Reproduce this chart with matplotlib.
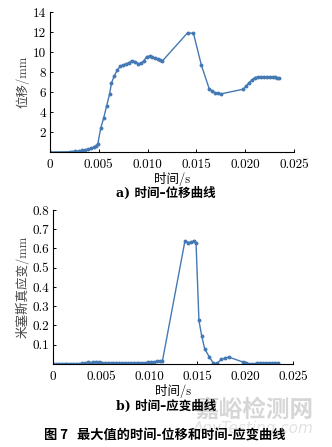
import matplotlib.pyplot as plt
from matplotlib.ticker import FixedLocator, FuncFormatter

plt.rcParams['font.family'] = ['cmr10', 'Noto Sans CJK SC', 'DejaVu Sans']
plt.rcParams['axes.unicode_minus'] = False
plt.rcParams['axes.formatter.use_mathtext'] = False

# --- displacement vs time ---
t_disp = [0.0, 0.0020, 0.0023, 0.0026, 0.0030, 0.0033, 0.0036, 0.0039, 0.0042,
          0.0045, 0.0047, 0.0049, 0.0052, 0.0055, 0.0058, 0.0061, 0.0063, 0.0066,
          0.0069, 0.0072, 0.0075, 0.0078, 0.0081, 0.0084, 0.0087, 0.0090, 0.0093,
          0.0096, 0.0099, 0.0102, 0.0105, 0.0108, 0.0111, 0.0113, 0.0115, 0.0141,
          0.0147, 0.0155, 0.0163, 0.0166, 0.0169, 0.0172, 0.0175, 0.0198, 0.0201,
          0.0204, 0.0207, 0.0210, 0.0213, 0.0216, 0.0219, 0.0222, 0.0225, 0.0228,
          0.0231, 0.0233, 0.0235]
disp = [0.0, 0.02, 0.04, 0.07, 0.11, 0.17, 0.23, 0.28, 0.36,
        0.48, 0.58, 0.82, 2.40, 3.40, 4.60, 5.78, 6.90, 7.65,
        8.19, 8.59, 8.70, 8.82, 8.95, 9.15, 9.05, 8.85, 8.87,
        9.10, 9.55, 9.58, 9.47, 9.40, 9.33, 9.25, 9.09, 11.93,
        11.86, 8.72, 6.35, 6.08, 5.95, 5.88, 5.81, 6.28, 6.60,
        6.95, 7.22, 7.45, 7.52, 7.52, 7.52, 7.52, 7.51, 7.50,
        7.47, 7.42, 7.38]

# --- von Mises strain vs time ---
t_strain = [0.0, 0.0003, 0.0006, 0.0009, 0.0012, 0.0015, 0.0018, 0.0021, 0.0024,
            0.0027, 0.0030, 0.0033, 0.0036, 0.0039, 0.0042, 0.0045, 0.0048, 0.0051,
            0.0054, 0.0057, 0.0060, 0.0063, 0.0066, 0.0069, 0.0072, 0.0075, 0.0078,
            0.0081, 0.0084, 0.0087, 0.0090, 0.0093, 0.0096, 0.0099, 0.0102, 0.0105,
            0.0108, 0.0111, 0.0114, 0.01375, 0.0141, 0.0144, 0.0147, 0.0149, 0.0152,
            0.0155, 0.0158, 0.0163, 0.0167, 0.0171, 0.0175, 0.0179, 0.0183, 0.0198,
            0.0201, 0.0204, 0.0207, 0.0210, 0.0213, 0.0216, 0.0219, 0.0222, 0.0225,
            0.0228, 0.0231, 0.0234]
strain = [0.002, 0.002, 0.002, 0.002, 0.002, 0.002, 0.002, 0.002, 0.002,
          0.002, 0.003, 0.004, 0.008, 0.006, 0.010, 0.012, 0.009, 0.005,
          0.006, 0.006, 0.006, 0.006, 0.007, 0.007, 0.007, 0.006, 0.004,
          0.004, 0.004, 0.004, 0.005, 0.005, 0.006, 0.008, 0.010, 0.012,
          0.013, 0.014, 0.016, 0.641, 0.631, 0.634, 0.641, 0.628, 0.226,
          0.143, 0.079, 0.035, 0.005, 0.003, 0.024, 0.029, 0.036, 0.010,
          0.005, 0.002, 0.001, 0.001, 0.003, 0.004, 0.004, 0.004, 0.004,
          0.004, 0.004, 0.004]

x_ticks = [0, 0.005, 0.010, 0.015, 0.020, 0.025]
disp_ticks = [2, 4, 6, 8, 10, 12, 14]
strain_ticks = [0.1, 0.2, 0.3, 0.4, 0.5, 0.6, 0.7, 0.8]

blue = '#4479B4'
fs = 9.5

fig = plt.figure(figsize=(3.32, 4.47), dpi=100)
ax1 = fig.add_axes([0.1506, 0.660, 0.735, 0.313])
ax2 = fig.add_axes([0.1596, 0.1857, 0.723, 0.3445])


def style(ax, ylim, yticks, yfmt):
    ax.set_xlim(0, 0.025)
    ax.set_ylim(*ylim)
    for s in ['top', 'right']:
        ax.spines[s].set_visible(False)
    for s in ['left', 'bottom']:
        ax.spines[s].set_linewidth(0.8)
    ax.xaxis.set_major_locator(FixedLocator(x_ticks))
    ax.xaxis.set_major_formatter(FuncFormatter(lambda v, p: '0' if v == 0 else f'{v:.3f}'))
    ax.yaxis.set_major_locator(FixedLocator(yticks))
    ax.yaxis.set_major_formatter(FuncFormatter(yfmt))
    ax.tick_params(direction='in', length=2.5, width=0.7, labelsize=fs, pad=3)
    ax.tick_params(axis='x', pad=5)
    ax.set_xlabel('时间/s', fontsize=9, labelpad=1)


ax1.plot(t_disp, disp, color=blue, lw=1.0, marker='o', ms=1.8)
style(ax1, (0, 14), disp_ticks, lambda v, p: f'{v:.0f}')
ax1.set_ylabel('位移/mm', fontsize=9, labelpad=2, color='#444444')

ax2.plot(t_strain, strain, color=blue, lw=1.0, marker='o', ms=1.8)
style(ax2, (0, 0.8), strain_ticks, lambda v, p: f'{v:.1f}')
ax2.set_ylabel('米塞斯真应变/mm', fontsize=9, labelpad=2, color='#444444')

fig.text(0.5, 1 - 193 / 447, 'a) 时间–位移曲线', ha='center', va='center',
         fontsize=9, fontweight='bold', family=['DejaVu Serif', 'Noto Sans CJK SC'])
fig.text(0.5, 1 - 406 / 447, 'b) 时间–应变曲线', ha='center', va='center',
         fontsize=9, fontweight='bold', family=['DejaVu Serif', 'Noto Sans CJK SC'])

# watermark
fig.text(0.945, 1 - 410 / 447, '嘉峪检测网', ha='right', va='center', fontsize=17,
         color='#d6d6d6', family=['Noto Sans CJK SC'], fontweight='bold', zorder=0)
fig.text(0.945, 1 - 428 / 447, 'AnyTesting.com', ha='right', va='center', fontsize=11,
         color='#e2e2e2', style='italic', family=['DejaVu Sans'], zorder=0)

fig.text(0.495, 1 - 435 / 447, '图 7   最大值的时间-位移和时间-应变曲线', ha='center', va='center',
         fontsize=9.5, fontweight='bold', family=['Noto Sans CJK SC', 'DejaVu Sans'])

fig.savefig('out.png', dpi=100)
